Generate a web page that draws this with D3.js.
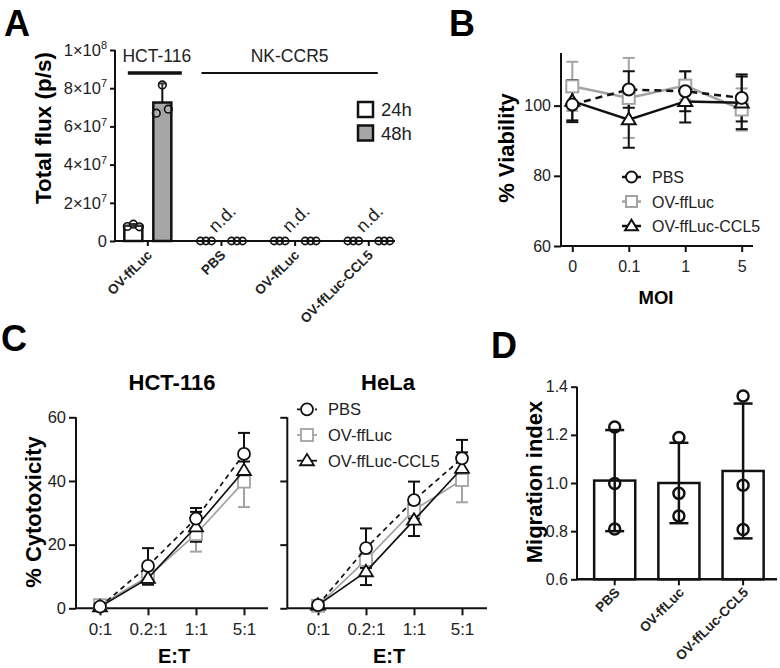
<!DOCTYPE html>
<html><head><meta charset="utf-8">
<script src="https://cdn.jsdelivr.net/npm/d3@7"></script>
<style>body{margin:0;background:#fff} svg{display:block}</style>
</head><body><svg id="c" width="780" height="668"></svg>
<script>
// ---------- Panel A data ----------
const fluxGroups = ["OV-ffLuc","PBS","OV-ffLuc","OV-ffLuc-CCL5"];
const fluxTimes = ["24h","48h"];
const flux24Mean = [8.0e6,0,0,0];
const flux48Mean = [7.25e7,0,0,0];
const flux24Sd = [0.9e6,0,0,0];
const flux48Sd = [1.0e7,0,0,0];
const flux24Points = [[7.6e6,8.8e6,7.4e6],[0,0,0],[0,0,0],[0,0,0]];
const flux48Points = [[6.69e7,8.17e7,6.9e7],[0,0,0],[0,0,0],[0,0,0]];
const fluxDetected = [true,false,false,false];
const fluxTicks = [0,2e7,4e7,6e7,8e7,1e8];
const fluxHeaders = ["HCT-116","NK-CCR5"];

// ---------- Panel B data ----------
const moiLevels = ["0","0.1","1","5"];
const viabSeries = ["PBS","OV-ffLuc","OV-ffLuc-CCL5"];
const viabPBS = [100.3,104.6,104.1,102.2];
const viabPBSsd = [4.5,5.2,5.7,6.7];
const viabOV = [105.5,102.2,105.7,98.9];
const viabOVsd = [7,11.4,4,6];
const viabCCL5 = [101.3,96,101.2,100.8];
const viabCCL5sd = [6,8,6,7.5];
const viabTicks = [60,80,100];

// ---------- Panel C data ----------
const etLevels = ["0:1","0.2:1","1:1","5:1"];
const cytoPanels = ["HCT-116","HeLa"];
const hctPBS = [0.5,13.3,28.2,48.5];
const hctPBSsd = [0.5,5.6,3.3,6.6];
const hctOV = [1.0,10.0,23.3,39.8];
const hctOVsd = [1.0,2.0,5.5,8.0];
const hctCCL5 = [0.5,9.4,25.6,43.3];
const hctCCL5sd = [0.5,2.0,4.7,2.8];
const helaPBS = [1.0,18.9,34.0,47.1];
const helaPBSsd = [0.5,6.2,5.8,5.8];
const helaOV = [0.8,15.2,30.9,40.3];
const helaOVsd = [0.5,2.6,4.0,7.0];
const helaCCL5 = [1.0,11.5,27.7,44.0];
const helaCCL5sd = [0.5,4.2,5.0,5.0];
const cytoTicks = [0,20,40,60];

// ---------- Panel D data ----------
const migGroups = ["PBS","OV-ffLuc","OV-ffLuc-CCL5"];
const migMean = [1.01,1.0,1.05];
const migSd = [0.21,0.167,0.28];
const migPoints = [[1.233,0.998,0.809],[1.189,0.957,0.863],[1.361,0.991,0.807]];
const migTicks = [0.6,0.8,1.0,1.2,1.4];

// ---------- helpers ----------
const FONT = '"Liberation Sans", Arial, Helvetica, sans-serif';
const BLACK = "#111", GRAY = "#a3a3a3", TXT = "#222";
const svg = d3.select("#c");
svg.append("rect").attr("width",780).attr("height",668).attr("fill","#fff");

function txt(g, x, y, s, size, opt={}) {
  return g.append("text").attr("x",x).attr("y",y).text(s)
    .attr("font-family",FONT).attr("font-size",size)
    .attr("font-weight",opt.bold?"bold":"normal")
    .attr("fill",opt.fill||TXT)
    .attr("text-anchor",opt.anchor||"start");
}
function hline(g,x1,x2,y,sw,color){
  g.append("line").attr("x1",x1).attr("x2",x2).attr("y1",y).attr("y2",y).attr("stroke",color||BLACK).attr("stroke-width",sw);
}
function vline(g,x,y1,y2,sw,color){
  g.append("line").attr("x1",x).attr("x2",x).attr("y1",y1).attr("y2",y2).attr("stroke",color||BLACK).attr("stroke-width",sw);
}
function styleAxis(g, sw){
  g.select(".domain").remove();
  g.selectAll("line").attr("stroke",BLACK).attr("stroke-width",sw);
  g.selectAll("text").attr("fill",TXT).attr("font-family",FONT);
}
function marker(g, shape, x, y, s, color, sw){
  if (shape==="circle") {
    g.append("circle").attr("cx",x).attr("cy",y).attr("r",s/2).attr("fill","#fff").attr("stroke",color).attr("stroke-width",sw);
  } else if (shape==="square") {
    g.append("rect").attr("x",x-s/2).attr("y",y-s/2).attr("width",s).attr("height",s).attr("fill","#fff").attr("stroke",color).attr("stroke-width",sw);
  } else {
    const h = s*0.95;
    g.append("path").attr("d",`M${x},${y-h*0.6}L${x+s*0.58},${y+h*0.4}L${x-s*0.58},${y+h*0.4}Z`)
      .attr("fill","#fff").attr("stroke",color).attr("stroke-width",sw).attr("stroke-linejoin","miter");
  }
}
function errBar(g,x,yTop,yBot,hw,color,sw){
  vline(g,x,yTop,yBot,sw,color);
  hline(g,x-hw,x+hw,yTop,sw,color);
  hline(g,x-hw,x+hw,yBot,sw,color);
}

// ---------- Panel letters ----------
txt(svg,4,36,"A",36,{bold:true,fill:"#000"});
txt(svg,449,36,"B",36,{bold:true,fill:"#000"});
txt(svg,1,351,"C",36,{bold:true,fill:"#000"});
txt(svg,491,358,"D",36,{bold:true,fill:"#000"});

// ================= Panel A =================
(function(){
  const g = svg.append("g");
  const y = d3.scaleLinear().domain([0,1e8]).range([241,50]);
  const x = d3.scaleBand().domain(d3.range(fluxGroups.length)).range([111,405.6]);
  const sub = d3.scalePoint().domain(fluxTimes).range([-14.5,14.5]);
  const cx = i => x(i) + x.bandwidth()/2;
  const x0 = 115, axisEnd = 395;

  // y axis
  const ya = g.append("g").attr("transform",`translate(${x0},0)`)
    .call(d3.axisLeft(y).tickValues(fluxTicks).tickSize(5).tickPadding(3).tickFormat(""));
  styleAxis(ya,2);
  vline(g,x0,y(1e8),y(0),2);
  ya.selectAll(".tick text").each(function(d){
    const t = d3.select(this).attr("font-size",16.5);
    if (d===0) { t.text("0"); return; }
    const e = Math.floor(Math.log10(d)+1e-9), m = Math.round(d/Math.pow(10,e));
    t.append("tspan").text(`${m}×10`);
    t.append("tspan").text(e).attr("font-size",11).attr("dy","-0.6em");
  });
  // x axis
  hline(g,x0,axisEnd,y(0),2);
  const xa = g.append("g").attr("transform",`translate(0,${y(0)})`)
    .call(d3.axisBottom(x).tickSize(5).tickFormat(""));
  styleAxis(xa,2);
  fluxGroups.forEach((name,i)=>{
    txt(g,0,0,name,13.5,{bold:true,anchor:"end"})
      .attr("transform",`translate(${cx(i)+5},${y(0)+15}) rotate(-45)`);
  });

  // bars
  const means = {"24h":flux24Mean,"48h":flux48Mean};
  const sds = {"24h":flux24Sd,"48h":flux48Sd};
  const pts = {"24h":flux24Points,"48h":flux48Points};
  const fills = {"24h":"#fff","48h":"#a6a6a6"};
  fluxGroups.forEach((name,i)=>{
    fluxTimes.forEach(t=>{
      const bx = cx(i)+sub(t);
      if (fluxDetected[i]) {
        const m = means[t][i];
        vline(g,bx,y(m+sds[t][i]),y(m),2);
        hline(g,bx-4,bx+4,y(m+sds[t][i]),2);
        g.append("rect").attr("x",bx-9).attr("width",18).attr("y",y(m)).attr("height",y(0)-y(m))
          .attr("fill",fills[t]).attr("stroke",BLACK).attr("stroke-width",2.5);
        pts[t][i].forEach((v,k)=>{
          g.append("circle").attr("cx",bx+(k-1)*6).attr("cy",y(v)).attr("r",3.8)
            .attr("fill","#fff").attr("fill-opacity",0.15).attr("stroke",BLACK).attr("stroke-width",1.6);
        });
      } else {
        const off = t===fluxTimes[0] ? -1 : 1;
        pts[t][i].forEach((v,k)=>{
          g.append("circle").attr("cx",bx+off*1+(k-1)*5.5).attr("cy",y(v)).attr("r",3.6)
            .attr("fill","none").attr("stroke",BLACK).attr("stroke-width",1.6);
        });
      }
    });
    if (!fluxDetected[i]) {
      txt(g,0,0,"n.d.",18,{anchor:"middle"}).attr("transform",`translate(${cx(i)+5},${y(0)-18}) rotate(-45)`);
    }
  });

  // group headers
  const hy = 73;
  hline(g,cx(0)-20,cx(0)+34,hy,3.5);
  txt(g,(cx(0)-20+cx(0)+34)/2+2,62,fluxHeaders[0],17.5,{anchor:"middle"});
  hline(g,cx(1)-20,cx(3)+9,hy,2);
  txt(g,(cx(1)-20+cx(3)+9)/2,62,fluxHeaders[1],17.5,{anchor:"middle"});

  // legend
  fluxTimes.forEach((t,k)=>{
    const ly = 102 + k*23.5;
    g.append("rect").attr("x",358).attr("y",ly).attr("width",15).attr("height",15)
      .attr("fill",fills[t]).attr("stroke",BLACK).attr("stroke-width",2.5);
    txt(g,381,ly+14,t,18.5);
  });

  // y title
  txt(g,0,0,"Total flux (p/s)",22.5,{bold:true,anchor:"middle",fill:"#000"})
    .attr("transform",`translate(51,128) rotate(-90)`);
})();

// ================= Panel B =================
(function(){
  const g = svg.append("g");
  const y = d3.scaleLinear().domain([60,115]).range([246,53]);
  const x = d3.scalePoint().domain(moiLevels).range([561,753]).padding(0.2);
  const x0 = 561;
  const ya = g.append("g").attr("transform",`translate(${x0},0)`)
    .call(d3.axisLeft(y).tickValues(viabTicks).tickSize(7).tickPadding(3));
  styleAxis(ya,2);
  ya.selectAll("text").attr("font-size",16);
  vline(g,x0,53,246,2);
  hline(g,x0,753,246,2);
  const xa = g.append("g").attr("transform",`translate(0,246)`)
    .call(d3.axisBottom(x).tickSize(6).tickPadding(9));
  styleAxis(xa,2);
  xa.selectAll("text").attr("font-size",16);
  txt(g,656,304,"MOI",18.5,{bold:true,anchor:"middle",fill:"#000"});
  txt(g,0,0,"% Viability",22,{bold:true,anchor:"middle",fill:"#000"})
    .attr("transform",`translate(514,148) rotate(-90)`);

  const series = [
    {name:viabSeries[1], v:viabOV, sd:viabOVsd, color:GRAY, dash:null, shape:"square"},
    {name:viabSeries[2], v:viabCCL5, sd:viabCCL5sd, color:BLACK, dash:null, shape:"triangle"},
    {name:viabSeries[0], v:viabPBS, sd:viabPBSsd, color:BLACK, dash:"7,5", shape:"circle"}
  ];
  const line = d3.line().x((d,i)=>x(moiLevels[i])).y(d=>y(d));
  series.forEach(s=>{
    s.v.forEach((v,i)=> errBar(g,x(moiLevels[i]),y(v+s.sd[i]),y(v-s.sd[i]),6,s.color,2));
  });
  series.forEach(s=>{
    g.append("path").attr("d",line(s.v)).attr("fill","none").attr("stroke",s.color)
      .attr("stroke-width",2.5).attr("stroke-dasharray",s.dash);
    s.v.forEach((v,i)=> marker(g,s.shape,x(moiLevels[i]),y(v),12,s.color,2));
  });
  // legend
  const order = [series[2],series[0],series[1]];
  order.forEach((s,k)=>{
    const ly = 177 + k*24.5;
    g.append("line").attr("x1",622).attr("x2",641).attr("y1",ly).attr("y2",ly)
      .attr("stroke",s.color).attr("stroke-width",2.5);
    marker(g,s.shape,631.5,ly,11,s.color,2);
    txt(g,652,ly+6,s.name,16);
  });
})();

// ================= Panel C =================
(function(){
  const y = d3.scaleLinear().domain([0,60]).range([608.3,417.3]);
  const layouts = [
    {title:cytoPanels[0], ax:76, end:268, r0:76, r1:268, labels:true,
     data:[{v:hctOV,sd:hctOVsd},{v:hctCCL5,sd:hctCCL5sd},{v:hctPBS,sd:hctPBSsd}], tx:172, etx:174},
    {title:cytoPanels[1], ax:287.3, end:487, r0:294, r1:486, labels:false,
     data:[{v:helaOV,sd:helaOVsd},{v:helaCCL5,sd:helaCCL5sd},{v:helaPBS,sd:helaPBSsd}], tx:388, etx:389}
  ];
  const styles = [
    {color:GRAY, dash:null, shape:"square"},
    {color:BLACK, dash:null, shape:"triangle"},
    {color:BLACK, dash:"5,4", shape:"circle"}
  ];
  layouts.forEach((L,pi)=>{
    const g = svg.append("g");
    const x = d3.scalePoint().domain(etLevels).range([L.r0,L.r1]).padding(0.5);
    const ya = g.append("g").attr("transform",`translate(${L.ax},0)`)
      .call(d3.axisLeft(y).tickValues(cytoTicks).tickSize(7).tickPadding(3).tickFormat(L.labels?d3.format("d"):""));
    styleAxis(ya,2);
    ya.selectAll("text").attr("font-size",16.5);
    vline(g,L.ax,417.3,608.3,2);
    hline(g,L.ax,L.end,608.3,2);
    const xa = g.append("g").attr("transform",`translate(0,608.3)`)
      .call(d3.axisBottom(x).tickSize(7).tickPadding(8));
    styleAxis(xa,2);
    xa.selectAll("text").attr("font-size",17);
    txt(g,L.tx,390,L.title,22,{bold:true,anchor:"middle",fill:"#000"});
    txt(g,L.etx,663,"E:T",20,{bold:true,anchor:"middle",fill:"#000"});
    const line = d3.line().x((d,i)=>x(etLevels[i])).y(d=>y(d));
    L.data.forEach((s,k)=>{
      const st = styles[k];
      s.v.forEach((v,i)=> errBar(g,x(etLevels[i]),y(v+s.sd[i]),y(Math.max(0,v-s.sd[i])),6,st.color,2));
    });
    L.data.forEach((s,k)=>{
      const st = styles[k];
      g.append("path").attr("d",line(s.v)).attr("fill","none").attr("stroke",st.color)
        .attr("stroke-width",1.7).attr("stroke-dasharray",st.dash);
      s.v.forEach((v,i)=> marker(g,st.shape,x(etLevels[i]),y(v),12,st.color,1.8));
    });
    if (pi===1) {
      const order = [[2,viabSeries[0]],[0,viabSeries[1]],[1,viabSeries[2]]];
      order.forEach(([k,name],r)=>{
        const st = styles[k];
        const ly = 409.3 + r*25.7;
        g.append("line").attr("x1",297).attr("x2",317).attr("y1",ly).attr("y2",ly)
          .attr("stroke",st.color).attr("stroke-width",1.8).attr("stroke-dasharray",k===2?"3,3":null);
        marker(g,st.shape,307,ly,12,st.color,1.8);
        txt(g,328,ly+6,name,16.5);
      });
    }
  });
  txt(svg,0,0,"% Cytotoxicity",22,{bold:true,anchor:"middle",fill:"#000"})
    .attr("transform",`translate(41,512) rotate(-90)`);
})();

// ================= Panel D =================
(function(){
  const g = svg.append("g");
  const y = d3.scaleLinear().domain([0.6,1.4]).range([579.3,386.7]);
  const x = d3.scaleBand().domain(migGroups).range([582.6,775.2]).paddingInner(0.36).paddingOuter(0.18);
  const x0 = 577;
  const ya = g.append("g").attr("transform",`translate(${x0},0)`)
    .call(d3.axisLeft(y).tickValues(migTicks).tickSize(6).tickPadding(3).tickFormat(d3.format(".1f")));
  styleAxis(ya,2);
  ya.selectAll("text").attr("font-size",16);
  vline(g,x0,386.7,579.3,2);
  const xa = g.append("g").attr("transform",`translate(0,579.3)`)
    .call(d3.axisBottom(x).tickSize(6).tickFormat(""));
  styleAxis(xa,2);
  migGroups.forEach((name,i)=>{
    const c = x(name)+x.bandwidth()/2;
    txt(g,0,0,name,13.5,{bold:true,anchor:"end"})
      .attr("transform",`translate(${c+6},${579.3+14}) rotate(-45)`);
  });
  migGroups.forEach((name,i)=>{
    const bx = x(name), c = bx + x.bandwidth()/2, m = migMean[i];
    g.append("rect").attr("x",bx).attr("width",x.bandwidth()).attr("y",y(m)).attr("height",y(0.6)-y(m))
      .attr("fill","#fff").attr("stroke",BLACK).attr("stroke-width",2.5);
    errBar(g,c,y(m+migSd[i]),y(m-migSd[i]),9.5,BLACK,2.5);
    migPoints[i].forEach(v=>{
      g.append("circle").attr("cx",c).attr("cy",y(v)).attr("r",5.5)
        .attr("fill","none").attr("stroke",BLACK).attr("stroke-width",2.5);
    });
  });
  hline(g,x0,777,579.3,2.5);
  txt(g,0,0,"Migration index",22,{bold:true,anchor:"middle",fill:"#000"})
    .attr("transform",`translate(542,482) rotate(-90)`);
})();
</script></body></html>
